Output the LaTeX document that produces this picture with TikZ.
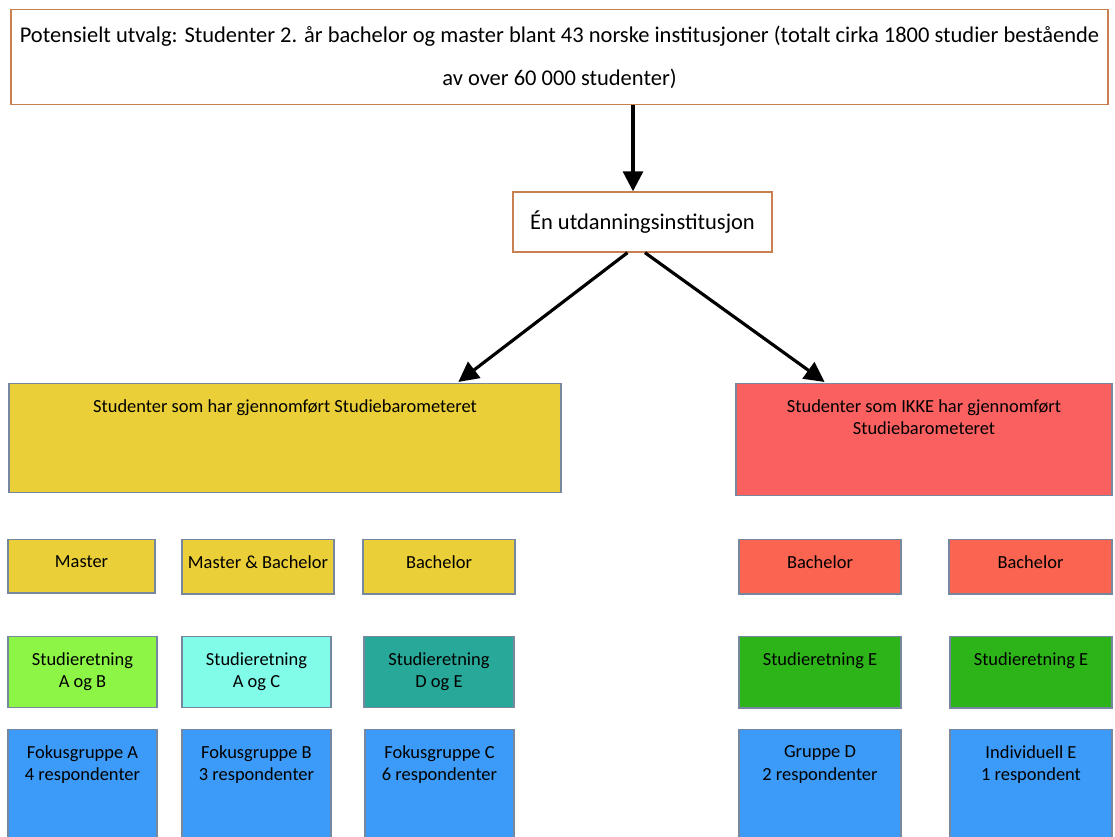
\documentclass[tikz,border=0pt]{standalone}
\usepackage{fontspec}
\setmainfont{Carlito}
\usetikzlibrary{arrows.meta}

\definecolor{Edge}{RGB}{120,135,160}
\definecolor{Rim}{RGB}{200,128,80}
\definecolor{Gold}{RGB}{234,207,56}
\definecolor{Rose}{RGB}{250,96,96}
\definecolor{Coral}{RGB}{250,100,80}
\definecolor{Lime}{RGB}{140,245,70}
\definecolor{Aqua}{RGB}{128,252,232}
\definecolor{Teal}{RGB}{40,168,152}
\definecolor{Grass}{RGB}{45,180,25}
\definecolor{Sky}{RGB}{60,155,248}

\begin{document}
\begin{tikzpicture}[x=0.02cm,y=-0.02cm]

              % Definitions
              \tikzstyle{Frame} = [rectangle, draw=Rim, line width=0.8pt, align=center, font=\fontsize{12.8}{15.4}\selectfont]
              \tikzstyle{Box} = [rectangle, draw=Edge, line width=0.8pt, anchor=north, align=center, inner xsep=2pt, inner ysep=0.31cm, font=\fontsize{10.5}{13}\selectfont]
              \tikzstyle{Small} = [Box, minimum width=3cm]
              \tikzstyle{arrow} = [line width=1.8pt,-{Triangle[length=0.4cm,width=0.4cm]}]

              \useasboundingbox (0,0) rectangle (1115,837);
              \clip (0,0) rectangle (1115,837);

              \node (Pop) [Frame, minimum width=21.94cm, minimum height=1.9cm] at (559.5,57) {Potensielt utvalg: Studenter 2. år bachelor og master blant 43 norske institusjoner (totalt cirka 1800 studier bestående\\[9pt] av over 60 000 studenter)};
              \node (Inst) [Frame, minimum width=5.18cm, minimum height=1.2cm] at (642.5,222) {Én utdanningsinstitusjon};

              \node (SB) [Box, fill=Gold, minimum width=11.04cm, text depth=1.3cm] at (285,383) {Studenter som har gjennomført Studiebarometeret};
              \node (NoSB) [Box, fill=Rose, minimum width=7.52cm, text depth=0.9cm] at (924,383) {Studenter som IKKE har gjennomført\\Studiebarometeret};

              % Level
              \node (Ma) [Small, fill=Gold, minimum width=2.94cm, text depth=0.21cm] at (81.5,539) {Master};
              \node (MaBa) [Small, fill=Gold, minimum width=3.04cm, text depth=0.21cm] at (258,539) {Master \& Bachelor};
              \node (Ba) [Small, fill=Gold, minimum width=3.04cm, text depth=0.21cm] at (439,539) {Bachelor};
              \node (BaD) [Small, fill=Coral, minimum width=3.24cm, text depth=0.21cm] at (820,539) {Bachelor};
              \node (BaE) [Small, fill=Coral, minimum width=3.26cm, text depth=0.21cm] at (1030.5,539) {Bachelor};

              % Field of study
              \node (StAB) [Small, fill=Lime, minimum width=2.98cm, text depth=0.08cm] at (82.5,636) {Studieretning\\A og B};
              \node (StAC) [Small, fill=Aqua, minimum width=2.98cm, text depth=0.08cm] at (256.5,636) {Studieretning\\A og C};
              \node (StDE) [Small, fill=Teal, minimum width=3cm, text depth=0.08cm] at (439,636) {Studieretning\\D og E};
              \node (StD) [Small, fill=Grass, minimum width=3.24cm, text depth=0.55cm] at (820,636) {Studieretning E};
              \node (StE) [Small, fill=Grass, minimum width=3.24cm, text depth=0.55cm] at (1031,636) {Studieretning E};

              % Groups
              \node (FgA) [Small, fill=Sky, minimum width=2.98cm, text depth=1.6cm] at (82.5,729) {Fokusgruppe A\\4 respondenter};
              \node (FgB) [Small, fill=Sky, minimum width=2.98cm, text depth=1.6cm] at (256.5,729) {Fokusgruppe B\\3 respondenter};
              \node (FgC) [Small, fill=Sky, minimum width=2.98cm, text depth=1.6cm] at (439.5,729) {Fokusgruppe C\\6 respondenter};
              \node (GrD) [Small, fill=Sky, minimum width=3.24cm, text depth=1.6cm] at (820,729) {Gruppe D\\2 respondenter};
              \node (IndE) [Small, fill=Sky, minimum width=3.24cm, text depth=1.6cm] at (1031,729) {Individuell E\\1 respondent};

              \draw [arrow] ([xshift=-0.19cm]Inst.north |- Pop.south) -- ([xshift=-0.19cm]Inst.north);
              \draw [arrow, shorten >=1pt] ([xshift=-0.3cm]Inst.south) -- ([xshift=3.44cm]SB.north);
              \draw [arrow, shorten >=1pt] ([xshift=0.05cm]Inst.south) -- ([xshift=-1.96cm]NoSB.north);

\end{tikzpicture}
\end{document}
